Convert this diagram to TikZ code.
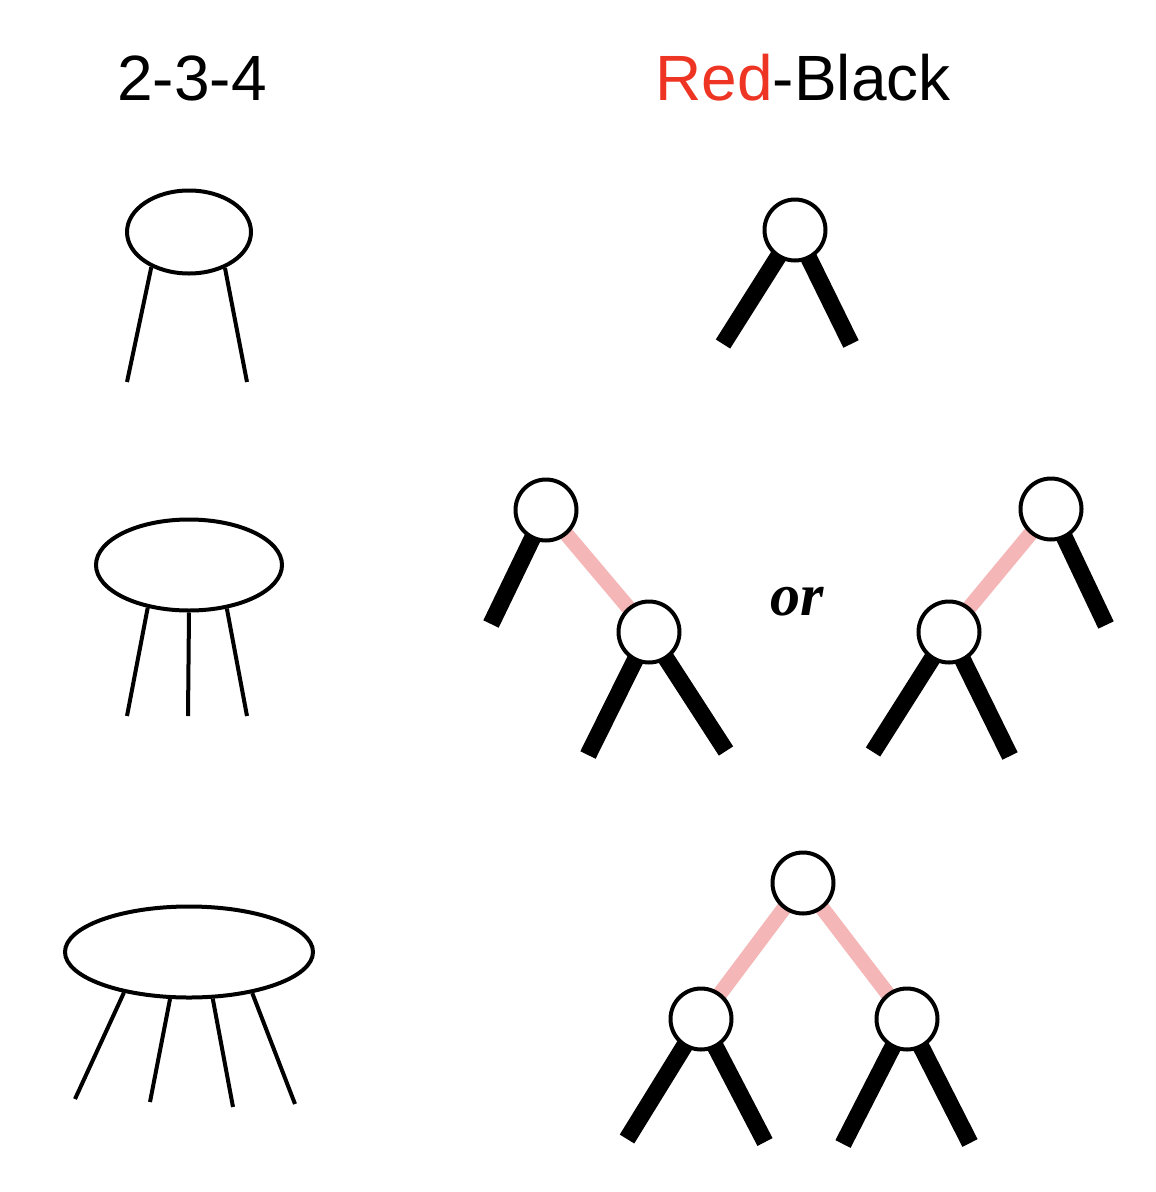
\documentclass[tikz,border=0pt]{standalone}
\usepackage{fontspec}
\setmainfont{Liberation Sans}
\newfontfamily\orfont{Liberation Serif}
\usetikzlibrary{shapes.geometric,backgrounds}
\definecolor{titlered}{HTML}{EE3524}
\definecolor{linkpink}{HTML}{F4B6B6}

\begin{document}
\begin{tikzpicture}[
    x=1pt, y=-1pt,
    bnode/.style={ellipse, draw=black, line width=4pt, fill=white, inner sep=0pt},
    bleg/.style={line width=4pt},
    rbnode/.style={circle, draw=black, line width=4pt, fill=white, inner sep=0pt, minimum size=61pt},
    blackedge/.style={line width=17pt},
    rededge/.style={line width=15pt, draw=linkpink},
    ttl/.style={font=\fontsize{64}{64}\selectfont, anchor=base, inner sep=0pt}
]
\useasboundingbox (0,0) rectangle (1156,1192);

% Titles
\node[ttl] (t234) at (192,100) {2-3-4};
\node[ttl] (trb) at (803,100) {\textcolor{titlered}{Red}-Black};

% 2-3-4 nodes
\node[bnode, minimum width=124pt, minimum height=83pt] (e1) at (189,232) {};
\node[bnode, minimum width=186pt, minimum height=91pt] (e2) at (189,565) {};
\node[bnode, minimum width=248pt, minimum height=91pt] (e3) at (189,952) {};

\coordinate (e1a) at (127,382);
\coordinate (e1b) at (247,382);
\coordinate (e2a) at (127,716);
\coordinate (e2b) at (188,716);
\coordinate (e2c) at (247,716);
\coordinate (e3a) at (75,1099);
\coordinate (e3b) at (150,1102);
\coordinate (e3c) at (233,1107);
\coordinate (e3d) at (295,1104);

\draw[bleg] (e1.-137) -- (e1a);
\draw[bleg] (e1.-45) -- (e1b);
\draw[bleg] (e2.-134) -- (e2a);
\draw[bleg] (e2.-90) -- (e2b);
\draw[bleg] (e2.-49) -- (e2c);
\draw[bleg] (e3.-148) -- (e3a);
\draw[bleg] (e3.-112) -- (e3b);
\draw[bleg] (e3.-63) -- (e3c);
\draw[bleg] (e3.-33) -- (e3d);

% Red-Black nodes
\node[rbnode] (n1) at (795,230) {};
\node[rbnode] (a1) at (546,510) {};
\node[rbnode] (a2) at (649,632) {};
\node[rbnode] (b1) at (1051,509) {};
\node[rbnode] (b2) at (949,632) {};
\node[rbnode] (c1) at (803,883) {};
\node[rbnode] (c2) at (701,1019) {};
\node[rbnode] (c3) at (907,1019) {};

\node[font=\orfont\fontsize{60}{60}\selectfont\bfseries\itshape, anchor=base, inner sep=0pt] (or) at (797,615) {or};

\coordinate (n1l) at (723,344);
\coordinate (n1r) at (851,344);
\coordinate (a1l) at (491,624);
\coordinate (a2l) at (588,755);
\coordinate (a2r) at (726,751);
\coordinate (b1r) at (1106,625);
\coordinate (b2l) at (873,752);
\coordinate (b2r) at (1010,756);
\coordinate (c2l) at (627,1139);
\coordinate (c2r) at (765,1142);
\coordinate (c3l) at (843,1144);
\coordinate (c3r) at (970,1143);

\begin{scope}[on background layer]
% black links
\draw[blackedge] (n1.center) -- (n1l);
\draw[blackedge] (n1.center) -- (n1r);
\draw[blackedge] (a1.center) -- (a1l);
\draw[blackedge] (a2.center) -- (a2l);
\draw[blackedge] (a2.center) -- (a2r);
\draw[blackedge] (b1.center) -- (b1r);
\draw[blackedge] (b2.center) -- (b2l);
\draw[blackedge] (b2.center) -- (b2r);
\draw[blackedge] (c2.center) -- (c2l);
\draw[blackedge] (c2.center) -- (c2r);
\draw[blackedge] (c3.center) -- (c3l);
\draw[blackedge] (c3.center) -- (c3r);
% red links
\draw[rededge] (a1.center) -- (a2.center);
\draw[rededge] (b1.center) -- (b2.center);
\draw[rededge] (c1.center) -- (c2.center);
\draw[rededge] (c1.center) -- (c3.center);
\end{scope}

\end{tikzpicture}
\end{document}
